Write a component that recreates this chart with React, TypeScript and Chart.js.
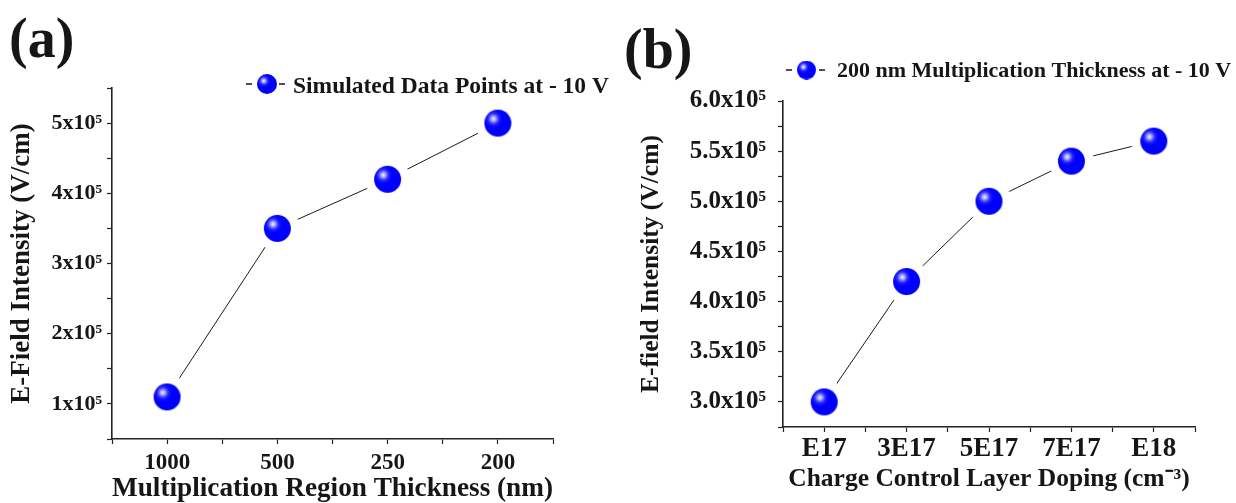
import React, { useEffect, useRef } from 'react';
import { Chart, registerables } from 'chart.js';

Chart.register(...registerables);

// ---------- data ----------
const thicknessLabels = ['1000', '500', '250', '200'];
const thicknessField = [110000, 350000, 420000, 500000];

const dopingLabels = ['E17', '3E17', '5E17', '7E17', 'E18'];
const dopingField = [300000, 420000, 500000, 540000, 560000];

const legendTextA = 'Simulated Data Points at - 10 V';
const legendTextB = '200 nm Multiplication Thickness at - 10 V';
const xTitleA = 'Multiplication Region Thickness (nm)';
const yTitleA = 'E-Field Intensity (V/cm)';
const xTitleB = 'Charge Control Layer Doping (cm\u207B\u00B3)';
const yTitleB = 'E-field Intensity (V/cm)';

// y axis ranges (min, max, minor step, labelled step)
const yRangeA = [50000, 550000, 50000, 100000];
const yRangeB = [275000, 600000, 25000, 50000];

const FONT = "'Liberation Serif', 'Times New Roman', serif";
const INK = '#161616';

function makeSphere(r: number, halo: number): HTMLCanvasElement {
  const size = Math.ceil(2 * (r + halo));
  const c = document.createElement('canvas');
  c.width = size;
  c.height = size;
  const ctx = c.getContext('2d')!;
  const cx = size / 2;
  const cy = size / 2;
  if (halo > 0) {
    ctx.fillStyle = '#ffffff';
    ctx.beginPath();
    ctx.arc(cx, cy, r + halo, 0, Math.PI * 2);
    ctx.fill();
  }
  ctx.fillStyle = '#0000ff';
  ctx.beginPath();
  ctx.arc(cx, cy, r, 0, Math.PI * 2);
  ctx.fill();
  const hx = cx - r * 0.32;
  const hy = cy - r * 0.32;
  const g = ctx.createRadialGradient(hx, hy, 0, hx, hy, r * 0.75);
  g.addColorStop(0, 'rgba(245,245,255,1)');
  g.addColorStop(0.25, 'rgba(170,170,255,0.95)');
  g.addColorStop(0.6, 'rgba(60,60,255,0.5)');
  g.addColorStop(1, 'rgba(0,0,255,0)');
  ctx.fillStyle = g;
  ctx.beginPath();
  ctx.arc(cx, cy, r, 0, Math.PI * 2);
  ctx.fill();
  return c;
}

const originLegend = {
  id: 'originLegend',
  afterDraw(chart: any, _args: any, opts: any) {
    const { ctx } = chart;
    ctx.save();
    ctx.strokeStyle = INK;
    ctx.lineWidth = 1.6;
    ctx.beginPath();
    ctx.moveTo(opts.dash1[0], opts.y);
    ctx.lineTo(opts.dash1[1], opts.y);
    ctx.moveTo(opts.dash2[0], opts.y);
    ctx.lineTo(opts.dash2[1], opts.y);
    ctx.stroke();
    const s = opts.sphere as HTMLCanvasElement;
    ctx.drawImage(s, opts.cx - s.width / 2, opts.y - s.height / 2);
    ctx.fillStyle = INK;
    ctx.font = `bold ${opts.size}px ${FONT}`;
    ctx.textBaseline = 'alphabetic';
    ctx.textAlign = 'left';
    ctx.fillText(opts.text, opts.textX, opts.baseline);
    ctx.restore();
  },
};

function buildConfig(p: any) {
  const [ymin, ymax, ystep, ymajor] = p.yRange;
  return {
    type: 'line',
    data: {
      datasets: [
        {
          label: p.legendText,
          data: p.values.map((v: number, i: number) => ({ x: i, y: v })),
          borderColor: '#1a1a1a',
          borderWidth: 1,
          pointStyle: p.sphere,
          pointRadius: 13,
          pointHoverRadius: 13,
          tension: 0,
          clip: false,
        },
      ],
    },
    options: {
      responsive: false,
      animation: false,
      events: [],
      layout: { padding: p.padding },
      plugins: {
        legend: { display: false },
        tooltip: { enabled: false },
        originLegend: p.legend,
      },
      scales: {
        x: {
          type: 'linear',
          min: -0.5,
          max: p.labels.length - 0.5,
          afterFit: (s: any) => {
            s.height = p.xHeight;
          },
          ticks: {
            stepSize: 0.5,
            autoSkip: false,
            maxRotation: 0,
            padding: p.xTickPad,
            color: INK,
            font: { family: FONT, size: p.xTickSize, weight: 'bold' },
            callback: (v: number) => (Number.isInteger(v) ? p.labels[v] : ''),
          },
          grid: {
            display: true,
            drawOnChartArea: false,
            drawTicks: true,
            tickLength: 5,
            tickColor: '#222',
            tickWidth: 1.2,
          },
          border: { display: true, color: '#222', width: 1.6 },
          title: {
            display: true,
            text: p.xTitle,
            color: INK,
            font: { family: FONT, size: p.xTitleSize, weight: 'bold', lineHeight: 1 },
            padding: { top: 0, bottom: p.xTitlePad },
          },
        },
        y: {
          type: 'linear',
          min: ymin,
          max: ymax,
          afterFit: (s: any) => {
            s.width = p.yWidth;
          },
          ticks: {
            stepSize: ystep,
            autoSkip: false,
            padding: p.yTickPad,
            color: INK,
            font: { family: FONT, size: p.yTickSize, weight: 'bold' },
            callback: (v: number) =>
              Math.round(v) % ymajor === 0 ? `${p.yFmt(v / 100000)}x10\u2075` : '',
          },
          grid: {
            display: true,
            drawOnChartArea: false,
            drawTicks: true,
            tickLength: 5,
            tickColor: '#222',
            tickWidth: 1.2,
          },
          border: { display: true, color: '#222', width: 1.6 },
          title: {
            display: true,
            text: p.yTitle,
            color: INK,
            font: { family: FONT, size: p.yTitleSize, weight: 'bold', lineHeight: 1 },
            padding: { top: p.yTitlePad, bottom: 0 },
          },
        },
      },
    },
    plugins: [originLegend],
  } as any;
}

export default function App() {
  const refA = useRef<HTMLCanvasElement>(null);
  const refB = useRef<HTMLCanvasElement>(null);

  useEffect(() => {
    const dataSphere = makeSphere(13.5, 9);
    const legSphereA = makeSphere(10, 0);
    const legSphereB = makeSphere(9.5, 0);

    const chartA = new Chart(
      refA.current!,
      buildConfig({
        labels: thicknessLabels,
        values: thicknessField,
        legendText: legendTextA,
        sphere: dataSphere,
        yRange: yRangeA,
        yFmt: (n: number) => String(Math.round(n)),
        padding: { left: 0, top: 88, right: 67, bottom: 0 },
        xHeight: 64,
        yWidth: 112,
        xTickPad: 5,
        xTickSize: 23,
        yTickPad: 5,
        yTickSize: 22,
        xTitle: xTitleA,
        xTitleSize: 27.5,
        xTitlePad: 0,
        yTitle: yTitleA,
        yTitleSize: 27,
        yTitlePad: 9,
        legend: {
          text: legendTextA,
          sphere: legSphereA,
          y: 84,
          dash1: [246, 252],
          cx: 267,
          dash2: [279, 285],
          textX: 293,
          baseline: 93,
          size: 23.5,
        },
      })
    );

    const chartB = new Chart(
      refB.current!,
      buildConfig({
        labels: dopingLabels,
        values: dopingField,
        legendText: legendTextB,
        sphere: dataSphere,
        yRange: yRangeB,
        yFmt: (n: number) => n.toFixed(1),
        padding: { left: 0, top: 101, right: 41, bottom: 0 },
        xHeight: 76,
        yWidth: 163,
        xTickPad: 1,
        xTickSize: 27,
        yTickPad: 12,
        yTickSize: 25,
        xTitle: xTitleB,
        xTitleSize: 25.5,
        xTitlePad: 11,
        yTitle: yTitleB,
        yTitleSize: 25.5,
        yTitlePad: 19,
        legend: {
          text: legendTextB,
          sphere: legSphereB,
          y: 70,
          dash1: [166, 172],
          cx: 186.5,
          dash2: [199, 205],
          textX: 217,
          baseline: 77,
          size: 22,
        },
      })
    );

    return () => {
      chartA.destroy();
      chartB.destroy();
    };
  }, []);

  const panelStyle: React.CSSProperties = {
    position: 'absolute',
    fontFamily: FONT,
    fontWeight: 'bold',
    fontSize: 56,
    lineHeight: 1,
    color: INK,
    margin: 0,
  };

  return (
    <div
      style={{
        position: 'absolute',
        left: 0,
        top: 0,
        width: 1236,
        height: 503,
        background: '#ffffff',
        overflow: 'hidden',
      }}
    >
      <canvas ref={refA} width={620} height={503} style={{ position: 'absolute', left: 0, top: 0 }} />
      <canvas ref={refB} width={616} height={503} style={{ position: 'absolute', left: 620, top: 0 }} />
      <div style={{ ...panelStyle, left: 9, top: 10 }}>(a)</div>
      <div style={{ ...panelStyle, left: 624, top: 21 }}>(b)</div>
    </div>
  );
}
